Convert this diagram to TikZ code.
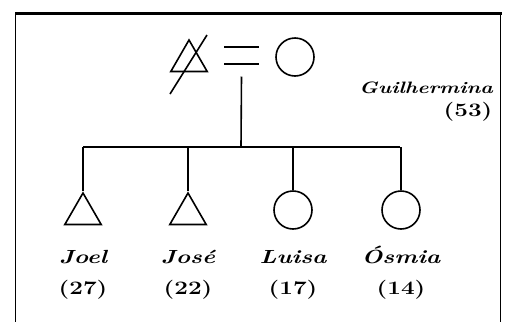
\documentclass[tikz,border=0pt]{standalone}
\usepackage{fontspec}
\newfontfamily\kinfont[FakeStretch=1.28]{Latin Modern Roman}
\usepackage{tikz}
\usetikzlibrary{shapes.geometric}
\usetikzlibrary{positioning}

\begin{document}
\begin{tikzpicture}[
  x = 1pt, y = -1pt,
  line width = 1.6pt,
  male/.style = {draw,regular polygon,regular polygon sides=3,minimum size=42pt,inner sep=0pt},
  female/.style = {draw,circle,minimum size=38pt,inner sep=0pt},
  kinname/.style = {font=\kinfont\fontsize{19}{21}\selectfont\bfseries\itshape,inner sep=0pt},
  kinage/.style = {font=\kinfont\fontsize{19}{21}\selectfont\bfseries,inner sep=0pt}
  ]
  \useasboundingbox (0,0) rectangle (506,322);
  % frame
  \draw[line width=3pt] (15,13) -- (502,13);
  \draw[line width=1pt] (15,12) -- (15,322);
  \draw[line width=1pt] (500,12) -- (500,322);

  % parents
  \node[male] (fa) at (189,61) {};
  \draw (170,94) -- (207,35);
  \node[female] (mo) at (295,57) {};
  \coordinate (wed) at (241.5,55.5);
  \draw ([shift={(-17.5,-8.5)}]wed) -- ([shift={(17.5,-8.5)}]wed);
  \draw ([shift={(-17.5,8.5)}]wed) -- ([shift={(17.5,8.5)}]wed);
  \node[kinname,font=\kinfont\fontsize{16.5}{19}\selectfont\bfseries\itshape,anchor=base] (gui) at (426,93) {Guilhermina};
  \node[kinage,anchor=base] (gage) at (468,116) {(53)};

  % sibling bar
  \coordinate (sib) at (241,147);
  \draw ([shift={(0,21)}]wed) -- (sib);
  \draw (83,147) -- (400,147);

  % children
  \node[male] (joel) at (83,214) {};
  \node[male] (jose) at (188,214) {};
  \node[female] (luisa) at (293,210) {};
  \node[female] (osmia) at (401,210) {};
  \foreach \kid in {joel,jose,luisa,osmia}
    \draw (sib -| \kid.north) -- (\kid.north);

  \node[kinname,anchor=base] (n1) at (83,263) {Joel};
  \node[kinname,anchor=base] (n2) at (188,263) {José};
  \node[kinname,anchor=base] (n3) at (293,263) {Luisa};
  \node[kinname,anchor=base] (n4) at (401,263) {Ósmia};
  \node[kinage,anchor=base] (a1) at (83,294) {(27)};
  \node[kinage,anchor=base] (a2) at (188,294) {(22)};
  \node[kinage,anchor=base] (a3) at (293,294) {(17)};
  \node[kinage,anchor=base] (a4) at (401,294) {(14)};
\end{tikzpicture}
\end{document}
